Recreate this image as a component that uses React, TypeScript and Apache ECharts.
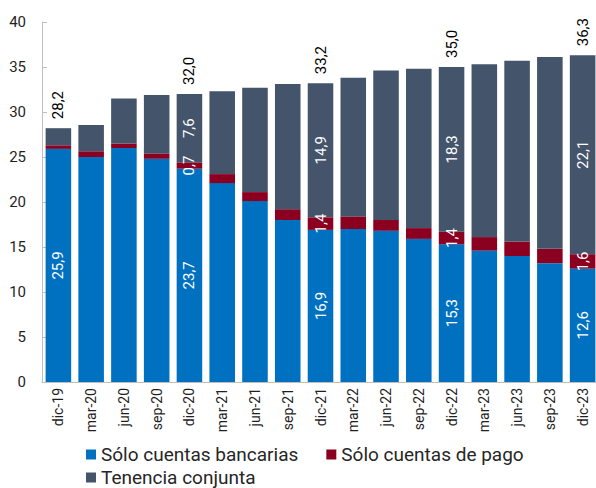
import React, { useEffect, useRef } from "react";
import * as echarts from "echarts";

const categories = [
  "dic-19", "mar-20", "jun-20", "sep-20", "dic-20", "mar-21", "jun-21", "sep-21",
  "dic-21", "mar-22", "jun-22", "sep-22", "dic-22", "mar-23", "jun-23", "sep-23", "dic-23",
];
const bancarias = [25.9, 25.0, 26.0, 24.8, 23.7, 22.1, 20.1, 18.0, 16.9, 17.0, 16.8, 15.9, 15.3, 14.6, 14.0, 13.2, 12.6];
const pago = [0.4, 0.65, 0.5, 0.6, 0.7, 1.0, 1.0, 1.2, 1.4, 1.4, 1.2, 1.2, 1.4, 1.5, 1.6, 1.6, 1.6];
const conjunta = [1.9, 2.9, 5.0, 6.5, 7.6, 9.2, 11.6, 13.9, 14.9, 15.4, 16.6, 17.7, 18.3, 19.2, 20.1, 21.3, 22.1];
const yTicks = { min: 0, max: 40, interval: 5 };
const seriesNames = ["Sólo cuentas bancarias", "Sólo cuentas de pago", "Tenencia conjunta"];
const labelledAll = [0, 4, 8, 12, 16];
const labelledParts = [4, 8, 12, 16];

const fmt = (v: number) => v.toFixed(1).replace(".", ",");
const FONT = "Roboto";

export default function App() {
  const ref = useRef<HTMLDivElement>(null);
  useEffect(() => {
    if (!ref.current) return;
    const chart = echarts.init(ref.current, null, { renderer: "svg" });
    const totals = categories.map((_, i) =>
      labelledAll.includes(i) ? +(bancarias[i] + pago[i] + conjunta[i]).toFixed(1) : null
    );
    const insideLabel = (idx: number[]) => ({
      show: true,
      position: "inside",
      rotate: 90,
      color: "#ffffff",
      fontSize: 15,
      fontFamily: FONT,
      formatter: (p: any) => (idx.includes(p.dataIndex) ? fmt(p.value) : ""),
    });
    const legendText = { fontSize: 19, color: "#262626", fontFamily: FONT };
    chart.setOption({
      animation: false,
      textStyle: { fontFamily: FONT },
      grid: { left: 42, top: 22, width: 557, height: 360, outerBoundsMode: "none", containLabel: false },
      legend: [
        {
          data: [seriesNames[0], seriesNames[1]],
          left: 86,
          top: 445,
          padding: 0,
          itemWidth: 10,
          itemHeight: 10,
          itemGap: 28,
          icon: "rect",
          textStyle: legendText,
        },
        {
          data: [seriesNames[2]],
          left: 86,
          top: 468,
          padding: 0,
          itemWidth: 10,
          itemHeight: 10,
          icon: "rect",
          textStyle: legendText,
        },
      ],
      xAxis: {
        type: "category",
        data: categories,
        axisLine: { lineStyle: { color: "#bfbfbf" } },
        axisTick: { inside: true, length: 4, lineStyle: { color: "#bfbfbf" } },
        axisLabel: { rotate: 90, fontSize: 14, color: "#1f1f1f", margin: 6, fontFamily: FONT, interval: 0 },
      },
      yAxis: {
        type: "value",
        min: yTicks.min,
        max: yTicks.max,
        interval: yTicks.interval,
        splitLine: { show: false },
        axisLine: { show: true, lineStyle: { color: "#bfbfbf" } },
        axisTick: { show: true, inside: true, length: 5, lineStyle: { color: "#bfbfbf" } },
        axisLabel: { fontSize: 15, color: "#1f1f1f", margin: 16, fontFamily: FONT },
      },
      series: [
        {
          name: seriesNames[0],
          type: "bar",
          stack: "t",
          data: bancarias,
          barCategoryGap: "22%",
          itemStyle: { color: "#0070c0" },
          label: insideLabel(labelledAll),
        },
        {
          name: seriesNames[1],
          type: "bar",
          stack: "t",
          data: pago,
          itemStyle: { color: "#8b0021" },
          label: insideLabel(labelledParts),
        },
        {
          name: seriesNames[2],
          type: "bar",
          stack: "t",
          data: conjunta,
          itemStyle: { color: "#44546a" },
          label: insideLabel(labelledParts),
        },
        {
          name: "Total",
          type: "scatter",
          data: totals,
          symbolSize: 0,
          silent: true,
          itemStyle: { opacity: 1 },
          label: {
            show: true,
            position: "top",
            distance: 9,
            rotate: 90,
            align: "left",
            verticalAlign: "middle",
            color: "#000000",
            fontSize: 15,
            fontFamily: FONT,
            formatter: (p: any) => (p.value == null ? "" : fmt(p.value)),
          },
        },
      ],
    });
    return () => chart.dispose();
  }, []);
  return (
    <div
      ref={ref}
      style={{ position: "fixed", left: 0, top: 0, width: 596, height: 488, background: "#fff" }}
    />
  );
}
